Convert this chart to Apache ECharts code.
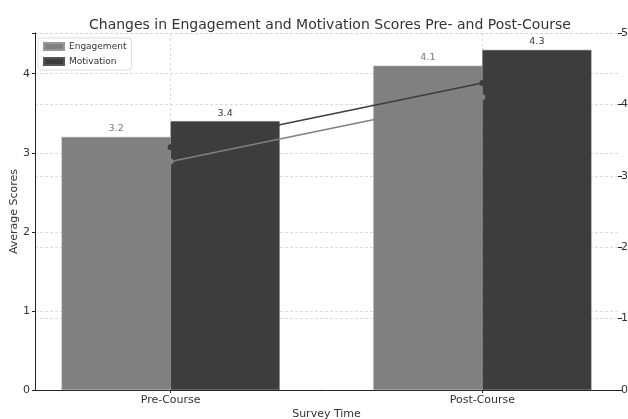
<!DOCTYPE html>
<html>
<head>
<meta charset="utf-8">
<script src="https://cdn.jsdelivr.net/npm/echarts@6/dist/echarts.min.js"></script>
<style>
  html, body { margin: 0; padding: 0; background: #fff; }
  #chart { width: 628px; height: 419px; }
</style>
</head>
<body>
<div id="chart"></div>
<script>
// survey data
const categories = ['Pre-Course', 'Post-Course']
const engagement = [3.2, 4.1]
const motivation = [3.4, 4.3]
const leftTicks = [0, 1, 2, 3, 4]
const rightTicks = [0, 1, 2, 3, 4, 5]

const font = 'DejaVu Sans'
const engColor = '#808080'
const motColor = '#3d3d3d'
const gridLine = { show: true, lineStyle: { color: '#d4d4d4', type: [3, 2], width: 0.8 } }
const catPos = categories.map((c, i) => i)

const chart = echarts.init(document.getElementById('chart'))
chart.setOption({
  animation: false,
  textStyle: { fontFamily: font },
  title: {
    text: 'Changes in Engagement and Motivation Scores Pre- and Post-Course',
    left: 84,
    top: 13,
    textStyle: { fontFamily: font, fontSize: 14, fontWeight: 'normal', color: '#333' }
  },
  legend: {
    data: ['Engagement', 'Motivation'],
    orient: 'vertical',
    left: 38,
    top: 38,
    icon: 'rect',
    itemWidth: 20,
    itemHeight: 7,
    itemGap: 6,
    padding: [4, 5],
    borderColor: '#ddd',
    borderWidth: 1,
    borderRadius: 3,
    backgroundColor: '#fff',
    textStyle: { fontFamily: font, fontSize: 9, color: '#333' }
  },
  grid: { left: 35, right: 10, top: 33, bottom: 29, outerBoundsMode: 'none' },
  xAxis: {
    type: 'value',
    min: -0.435,
    max: 1.435,
    name: 'Survey Time',
    nameLocation: 'middle',
    nameGap: 19,
    nameMoveOverlap: false,
    nameTextStyle: { fontFamily: font, fontSize: 11, color: '#333' },
    axisLine: { show: true, onZero: false, lineStyle: { color: '#222', width: 1 } },
    axisTick: { show: true, length: 3, customValues: catPos, lineStyle: { color: '#222' } },
    axisLabel: {
      customValues: catPos,
      formatter: v => categories[Math.round(v)],
      fontFamily: font, fontSize: 11, color: '#333', margin: 5
    },
    splitLine: gridLine
  },
  yAxis: [
    {
      type: 'value',
      min: 0,
      max: 4.515,
      interval: 1,
      name: 'Average Scores',
      nameLocation: 'middle',
      nameGap: 15,
      nameMoveOverlap: false,
      nameTextStyle: { fontFamily: font, fontSize: 11, color: '#333' },
      axisLine: { show: true, onZero: false, lineStyle: { color: '#222', width: 1 } },
      axisTick: { show: true, length: 3, lineStyle: { color: '#222' } },
      axisLabel: {
        fontFamily: font, fontSize: 11, color: '#333', margin: 5,
        formatter: v => leftTicks.includes(v) ? String(v) : ''
      },
      splitLine: gridLine
    },
    {
      type: 'value',
      min: 0,
      max: 5,
      interval: 1,
      position: 'right',
      axisLine: { show: false, onZero: false },
      axisTick: { show: true, length: 4, lineStyle: { color: '#222' } },
      axisLabel: {
        fontFamily: font, fontSize: 11, color: '#333', margin: 3,
        formatter: v => rightTicks.includes(v) ? String(v) : ''
      },
      splitLine: gridLine
    }
  ],
  series: [
    {
      name: 'Engagement',
      type: 'bar',
      barWidth: 109,
      barGap: '0%',
      data: engagement.map((v, i) => [i, v]),
      itemStyle: { color: engColor, borderColor: '#999', borderWidth: 0.5 },
      label: { show: true, position: 'top', distance: 3, fontFamily: font, fontSize: 9.5, color: '#777' },
      z: 2
    },
    {
      name: 'Motivation',
      type: 'bar',
      barWidth: 109,
      barGap: '0%',
      data: motivation.map((v, i) => [i, v]),
      itemStyle: { color: motColor, borderColor: '#555', borderWidth: 0.5 },
      label: { show: true, position: 'top', distance: 3, fontFamily: font, fontSize: 9.5, color: '#333' },
      z: 2
    },
    {
      name: 'Engagement trend',
      type: 'line',
      yAxisIndex: 1,
      data: engagement.map((v, i) => [i, v]),
      symbol: 'circle',
      symbolSize: 6,
      lineStyle: { color: engColor, width: 1.5 },
      itemStyle: { color: engColor },
      z: 3
    },
    {
      name: 'Motivation trend',
      type: 'line',
      yAxisIndex: 1,
      data: motivation.map((v, i) => [i, v]),
      symbol: 'circle',
      symbolSize: 6,
      lineStyle: { color: motColor, width: 1.5 },
      itemStyle: { color: motColor },
      z: 3
    }
  ]
})
</script>
</body>
</html>
